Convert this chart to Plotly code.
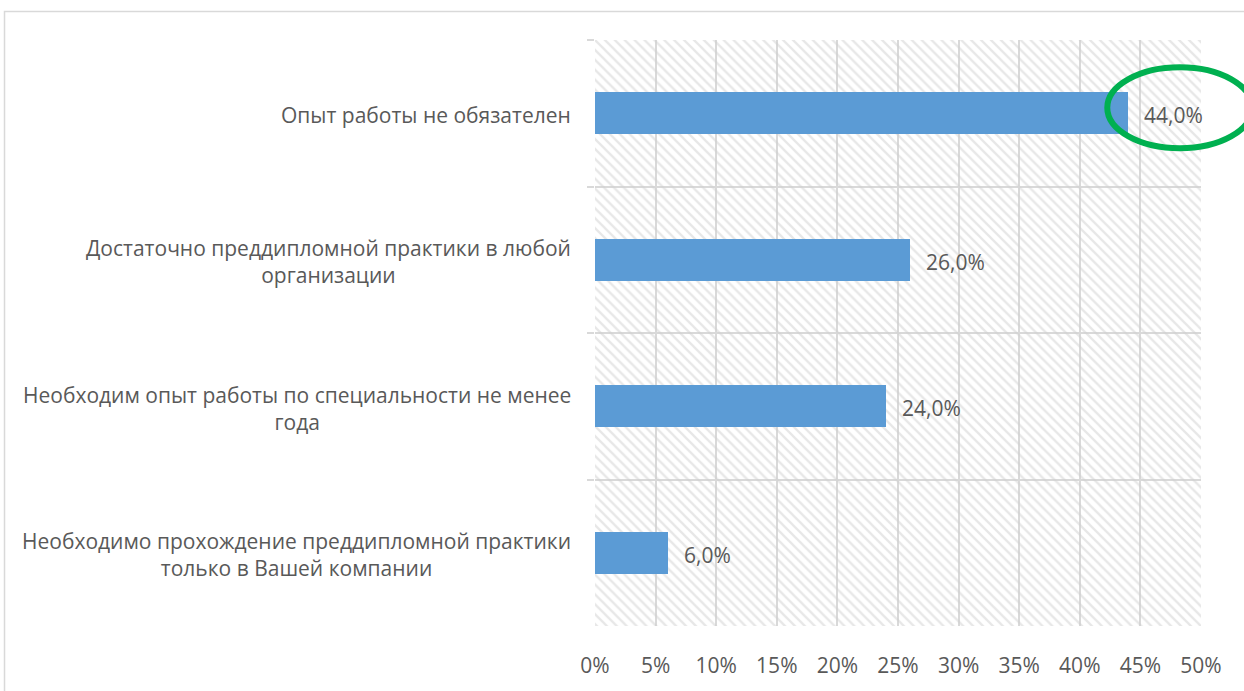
import plotly.graph_objects as go

categories = [
    "Опыт работы не обязателен",
    "Достаточно преддипломной практики в любой<br>организации",
    "Необходим опыт работы по специальности не менее<br>года",
    "Необходимо прохождение преддипломной практики<br>только в Вашей компании",
]
values = [44.0, 26.0, 24.0, 6.0]
tick_vals = list(range(0, 55, 5))
tick_text = [f"{v}%" for v in tick_vals]
x_max = 50

FONT = "Open Sans"
TXT = "#595959"
GRID = "#d9d9d9"
FS = 21

ids = [f"c{i}" for i in range(len(categories))]
n = len(ids)

fig = go.Figure()
# hatched plot-area background
fig.add_trace(go.Bar(
    y=ids, x=[x_max] * n, orientation="h", width=1,
    marker=dict(color="rgba(0,0,0,0)", line=dict(width=0),
                pattern=dict(shape="\\", fgcolor="#d0d0d0", bgcolor="rgba(0,0,0,0)",
                             size=7, solidity=0.33, fillmode="overlay")),
    hoverinfo="skip", showlegend=False,
))
fig.add_trace(go.Bar(
    y=ids, x=values, orientation="h", width=0.285,
    marker=dict(color="#5B9BD5", line=dict(width=0)),
    showlegend=False,
))

annotations = []
for cid, cat in zip(ids, categories):
    annotations.append(dict(
        text=cat, xref="paper", x=0, xshift=-22, xanchor="right", align="center",
        yref="y", y=cid, yanchor="middle", yshift=-2, showarrow=False,
        font=dict(family=FONT, size=FS, color=TXT),
    ))
for cid, v in zip(ids, values):
    annotations.append(dict(
        text=f"{v:.1f}".replace(".", ",") + "%", xref="x", x=v, xshift=14,
        xanchor="left", yref="y", y=cid, yanchor="middle", yshift=-2, showarrow=False,
        font=dict(family=FONT, size=FS, color=TXT),
    ))

# highlight ellipse anchored to the top bar's end (paper coords so it is not clipped)
hl_x = values[0] / x_max
hl_y = 1 - 0.5 / n

shapes = [
    # outer chart border
    dict(type="rect", xref="paper", yref="paper", x0=-0.9744, x1=1.3, y0=-0.3, y1=1.0488,
         line=dict(color=GRID, width=1.5), fillcolor="rgba(0,0,0,0)", layer="below"),
    dict(type="circle", xref="paper", yref="paper", xsizemode="pixel", ysizemode="pixel",
         xanchor=hl_x, yanchor=hl_y, x0=-21, x1=124, y0=-35, y1=46,
         line=dict(color="#00B050", width=6), fillcolor="rgba(0,0,0,0)"),
]

fig.update_layout(
    width=1244, height=691,
    margin=dict(l=595, r=43, t=40, b=57),
    paper_bgcolor="white", plot_bgcolor="white",
    barmode="overlay", bargap=0,
    annotations=annotations, shapes=shapes,
    font=dict(family=FONT, size=FS, color=TXT),
    xaxis=dict(range=[0, x_max], tickvals=tick_vals, ticktext=tick_text,
               showgrid=True, gridcolor=GRID, gridwidth=1.5, zeroline=False,
               showline=False, ticks="", ticklabelstandoff=25,
               tickfont=dict(family=FONT, size=FS, color=TXT), fixedrange=True),
    yaxis=dict(type="category", categoryorder="array", categoryarray=ids,
               autorange="reversed", tickson="boundaries", showgrid=True,
               gridcolor=GRID, gridwidth=1.5, ticks="outside", ticklen=7,
               tickcolor=GRID, tickwidth=1.5, showticklabels=False,
               showline=False, zeroline=False, fixedrange=True),
)

# remove the default 8px page margin so the figure fills the window exactly
fig.write_html("out.html", config={"displayModeBar": False},
               post_script="document.body.style.margin='0';document.body.style.overflow='hidden';")
